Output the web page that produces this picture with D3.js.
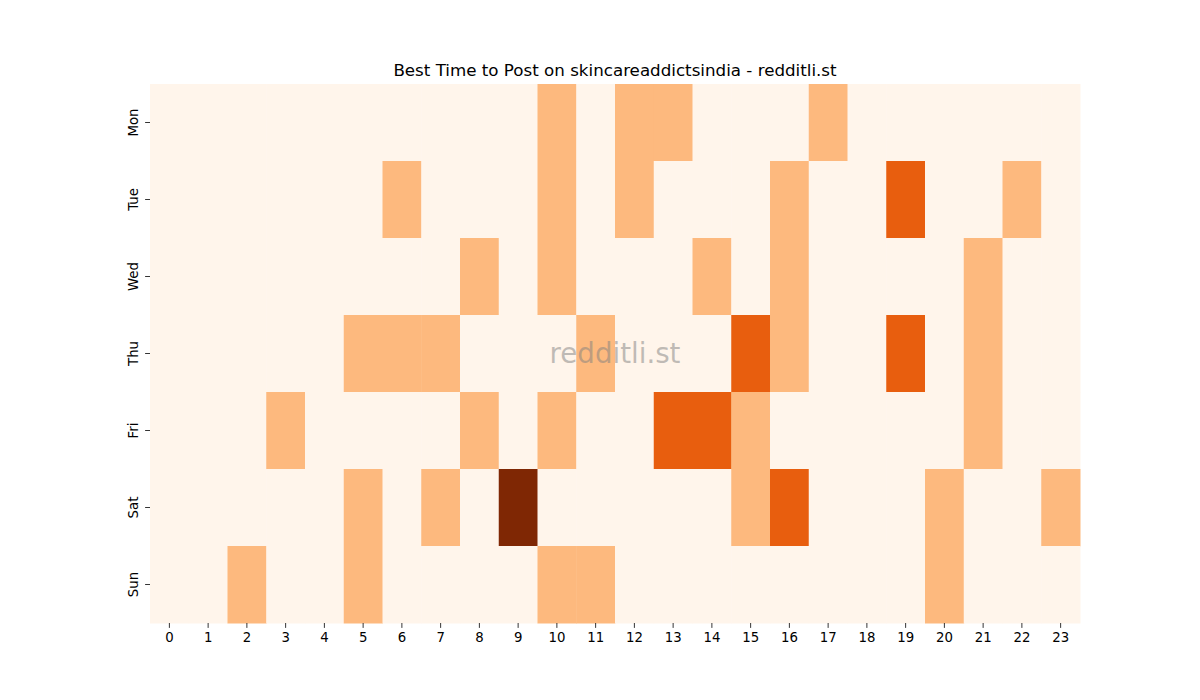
<!DOCTYPE html>
<html>
<head>
<meta charset="utf-8">
<script src="https://cdn.jsdelivr.net/npm/d3@7"></script>
<style>
  body { margin: 0; background: #fff; }
  text { font-family: "DejaVu Sans", sans-serif; }
</style>
</head>
<body>
<div id="chart"></div>
<script>
const days = ['Mon', 'Tue', 'Wed', 'Thu', 'Fri', 'Sat', 'Sun']
const hours = d3.range(24)

// posts per hour, one row per weekday (0..23)
const mon = [0,0,0,0,0,0,0,0,0,0,1,0,1,1,0,0,0,1,0,0,0,0,0,0]
const tue = [0,0,0,0,0,0,1,0,0,0,1,0,1,0,0,0,1,0,0,2,0,0,1,0]
const wed = [0,0,0,0,0,0,0,0,1,0,1,0,0,0,1,0,1,0,0,0,0,1,0,0]
const thu = [0,0,0,0,0,1,1,1,0,0,0,1,0,0,0,2,1,0,0,2,0,1,0,0]
const fri = [0,0,0,1,0,0,0,0,1,0,1,0,0,2,2,1,0,0,0,0,0,1,0,0]
const sat = [0,0,0,0,0,1,0,1,0,3,0,0,0,0,0,1,2,0,0,0,1,0,0,1]
const sun = [0,0,1,0,0,1,0,0,0,0,1,1,0,0,0,0,0,0,0,0,1,0,0,0]
const rows = [mon, tue, wed, thu, fri, sat, sun]

const margin = { top: 84, right: 120, bottom: 77, left: 150 }
const width = 1200 - margin.left - margin.right
const height = 700 - margin.top - margin.bottom

const cells = []
rows.forEach((r, i) => r.forEach((v, h) => cells.push({ day: days[i], hour: h, value: v })))

const svg = d3.select('#chart')
  .append('svg')
    .attr('width', 1200)
    .attr('height', 700)

const g = svg.append('g')
  .attr('transform', `translate(${margin.left}, ${margin.top})`)

const xScale = d3.scaleBand().domain(hours).range([0, width])
const yScale = d3.scaleBand().domain(days).range([0, height])
const color = d3.scaleSequential(d3.interpolateOranges)
  .domain([0, d3.max(cells, d => d.value)])

g.selectAll('rect')
  .data(cells)
  .enter()
  .append('rect')
    .attr('x', d => xScale(d.hour))
    .attr('y', d => yScale(d.day))
    .attr('width', xScale.bandwidth() + 0.5)
    .attr('height', yScale.bandwidth() + 0.5)
    .attr('fill', d => color(d.value))

// axes
const xAxis = g.append('g')
  .attr('transform', `translate(0, ${height})`)
  .call(d3.axisBottom(xScale).tickSize(4.9).tickPadding(4.9))
xAxis.select('.domain').remove()
xAxis.selectAll('text').attr('font-size', 13.3).attr('fill', '#000')
xAxis.selectAll('line').attr('stroke', '#000').attr('stroke-width', 0.8)

const yAxis = g.append('g')
  .call(d3.axisLeft(yScale).tickSize(4.9).tickPadding(4.9))
yAxis.select('.domain').remove()
yAxis.selectAll('line').attr('stroke', '#000').attr('stroke-width', 0.8)
yAxis.selectAll('text')
  .attr('font-size', 13.3)
  .attr('fill', '#000')
  .attr('text-anchor', 'middle')
  .attr('x', null)
  .attr('y', 0)
  .attr('dy', '0.35em')
  .attr('transform', 'translate(-17, 0) rotate(-90)')

// title
svg.append('text')
  .attr('x', margin.left + width / 2)
  .attr('y', 76)
  .attr('text-anchor', 'middle')
  .attr('font-size', 16.7)
  .text('Best Time to Post on skincareaddictsindia - redditli.st')

// watermark
svg.append('text')
  .attr('x', margin.left + width / 2)
  .attr('y', 363)
  .attr('text-anchor', 'middle')
  .attr('font-size', 27.7)
  .attr('fill', '#808080')
  .attr('fill-opacity', 0.5)
  .text('redditli.st')
</script>
</body>
</html>
